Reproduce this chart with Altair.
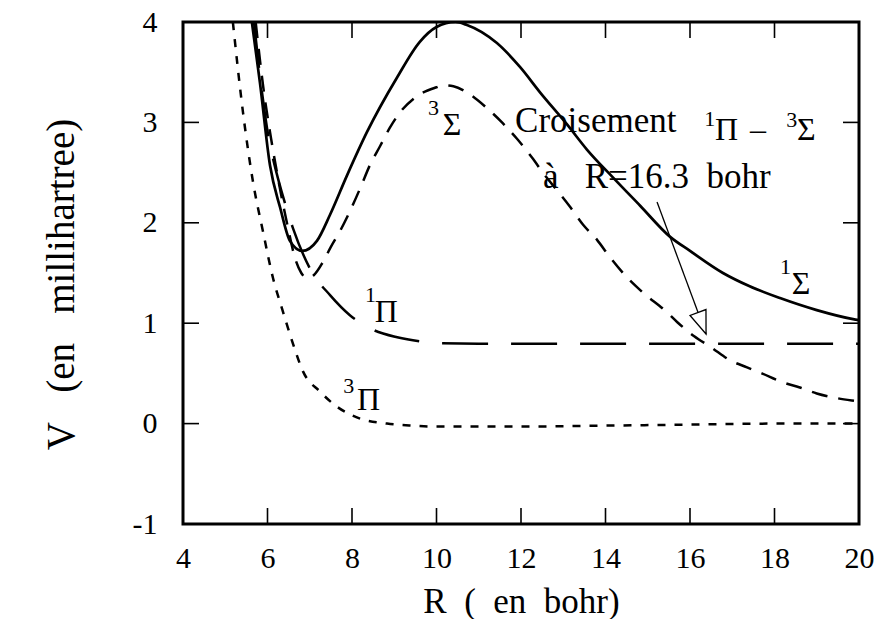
import altair as alt
import pandas as pd

FONT = "Liberation Serif, DejaVu Serif, serif"
NB = "\u00a0"

# Potential curves V(R), R in bohr, V in millihartree
R_1sigma = [5.63, 5.82, 6.06, 6.30, 6.53, 6.82, 7.17, 7.48, 7.88, 8.35, 9.07, 9.60, 10.0,
            10.45, 10.72, 11.43, 11.98, 12.45, 13.09, 13.56, 14.18, 14.82, 15.53, 16.0,
            16.78, 17.4, 18.13, 19.0, 19.86, 20.0]
V_1sigma = [4.0, 3.4, 2.57, 2.15, 1.82, 1.72, 1.82, 2.08, 2.47, 2.9, 3.45, 3.8, 3.95,
            4.0, 3.97, 3.79, 3.55, 3.30, 2.98, 2.73, 2.45, 2.17, 1.86, 1.72,
            1.50, 1.37, 1.25, 1.13, 1.04, 1.03]

R_3sigma = [5.72, 5.9, 6.1, 6.3, 6.5, 6.65, 6.8, 6.93, 7.1, 7.3, 7.5, 7.72, 7.9, 8.2,
            8.43, 8.66, 8.9, 9.1, 9.5, 10.0, 10.15, 10.4, 10.75, 11.2, 11.55, 11.9,
            12.26, 12.57, 12.88, 13.16, 13.47, 13.8, 14.1, 14.5, 14.9, 15.4, 15.7,
            16.1, 16.5, 16.95, 17.35, 17.7, 18.2, 18.6, 19.0, 19.4, 19.83, 20.0]
V_3sigma = [4.0, 3.35, 2.8, 2.33, 1.92, 1.65, 1.5, 1.45, 1.48, 1.6, 1.76, 1.92, 2.07, 2.35,
            2.58, 2.76, 2.95, 3.08, 3.25, 3.35, 3.37, 3.36, 3.29, 3.14, 3.0, 2.84,
            2.65, 2.47, 2.31, 2.16, 1.98, 1.83, 1.66, 1.46, 1.30, 1.13, 1.01,
            0.87, 0.76, 0.63, 0.56, 0.50, 0.41, 0.36, 0.30, 0.26, 0.23, 0.22]

R_1pi = [5.68, 5.87, 6.06, 6.13, 6.41, 6.6, 7.05, 7.48, 7.95, 8.47, 9.07, 9.6, 10.1,
         11.0, 14.0, 17.0, 20.0]
V_1pi = [4.0, 3.3, 2.77, 2.64, 2.2, 1.95, 1.51, 1.28, 1.08, 0.94, 0.86, 0.82, 0.80,
         0.795, 0.795, 0.795, 0.795]

R_3pi = [5.18, 5.42, 5.66, 5.9, 6.13, 6.34, 6.6, 6.84, 7.24, 7.64, 8.19, 8.83, 9.45,
         10.0, 12.0, 14.0, 16.0, 18.0, 20.0]
V_3pi = [4.0, 3.1, 2.4, 1.9, 1.45, 1.15, 0.8, 0.52, 0.32, 0.17, 0.05, 0.0, -0.02,
         -0.03, -0.03, -0.02, -0.01, 0.0, 0.0]

# Arrow pointing at the 1Pi / 3Sigma crossing
arrow_R = [15.22, 16.38]
arrow_V = [2.207, 0.892]

# Axis ticks
x_ticks = [4, 6, 8, 10, 12, 14, 16, 18, 20]
y_ticks = [-1, 0, 1, 2, 3, 4]
x_inner_ticks = [6, 8, 10, 12, 14, 16, 18]
y_inner_ticks = [0, 1, 2, 3]

# Annotation pieces (text, R, V)
plain_text = ["Croisement", "à" + NB * 3 + "R=16.3" + NB * 2 + "bohr"]
plain_R = [11.86, 12.52]
plain_V = [2.904, 2.345]

greek_text = ["Π", "–", "Σ", "Σ", "Π", "Π", "Σ"]
greek_R = [16.59, 17.42, 18.53, 10.15, 8.54, 8.12, 18.41]
greek_V = [2.824, 2.82, 2.824, 2.873, 1.012, 0.135, 1.293]

sup_text = ["1", "3", "3", "1", "3", "1"]
sup_R = [16.34, 18.28, 9.80, 8.31, 7.79, 18.13]
sup_V = [2.96, 2.953, 3.07, 1.211, 0.305, 1.49]

W, H = 676, 502

x_scale = alt.Scale(domain=[4, 20], nice=False, zero=False)
y_scale = alt.Scale(domain=[-1, 4], nice=False, zero=False)

x_axis = alt.Axis(
    values=x_ticks, ticks=False, domain=False, grid=False,
    labelFont=FONT, labelFontSize=30, labelColor="black", labelPadding=19,
    labelFlush=False, labelOverlap=False, labelExpr="'' + datum.value",
    title="R" + NB * 2 + "(" + NB * 2 + "en" + NB * 2 + "bohr)",
    titleFont=FONT, titleFontSize=35, titleFontWeight="normal", titleColor="black",
    titleY=88, titleBaseline="alphabetic",
)
y_axis = alt.Axis(
    values=y_ticks, ticks=False, domain=False, grid=False,
    labelFont=FONT, labelFontSize=30, labelColor="black", labelPadding=26,
    labelFlush=False, labelOverlap=False, labelExpr="'' + datum.value",
    title="V" + NB * 3 + "(en" + NB * 3 + "millihartree)",
    titleFont=FONT, titleFontSize=39, titleFontWeight="normal", titleColor="black",
    titleAngle=270, titleX=-110, titleY=262, titleBaseline="alphabetic", titleAlign="center",
)

X = alt.X("R:Q", scale=x_scale, axis=x_axis)
Y = alt.Y("V:Q", scale=y_scale, axis=y_axis)


def curve(R, V, dash, width=2.5):
    df = pd.DataFrame({"R": R, "V": V})
    kw = dict(color="black", strokeWidth=width, interpolate="monotone", clip=True)
    if dash:
        kw["strokeDash"] = dash
    return alt.Chart(df).mark_line(**kw).encode(x=X, y=Y, order="R:Q")


c_1sigma = curve(R_1sigma, V_1sigma, None, 2.7)
c_3sigma = curve(R_3sigma, V_3sigma, [16, 11])
c_1pi = curve(R_1pi, V_1pi, [46, 23])
c_3pi = curve(R_3pi, V_3pi, [8, 9])

arrow_df = pd.DataFrame({"R": arrow_R, "V": arrow_V})
arrow_line = alt.Chart(arrow_df).mark_line(color="black", strokeWidth=1.3).encode(x=X, y=Y)
arrow_head = alt.Chart(arrow_df.tail(1)).mark_point(
    shape="M0,0L-0.37,-1L0.37,-1Z", size=2116, angle=339.5,
    filled=True, fill="white", stroke="black", strokeWidth=1.3, opacity=1,
).encode(x=X, y=Y)


def texts(txt, R, V, size):
    df = pd.DataFrame({"t": txt, "R": R, "V": V})
    return alt.Chart(df).mark_text(
        font=FONT, fontSize=size, color="black", align="left", baseline="alphabetic"
    ).encode(x=X, y=Y, text="t:N")


t_plain = texts(plain_text, plain_R, plain_V, 35)
t_greek = texts(greek_text, greek_R, greek_V, 32)
t_sup = texts(sup_text, sup_R, sup_V, 22)

# Inward tick marks on all four sides of the frame
xt = pd.DataFrame({"R": x_inner_ticks})
yt = pd.DataFrame({"V": y_inner_ticks})
TL = 16
tick_style = dict(color="black", strokeWidth=1.6)
ticks_bottom = alt.Chart(xt).mark_rule(**tick_style).encode(x=X, y=alt.value(H), y2=alt.value(H - TL))
ticks_top = alt.Chart(xt).mark_rule(**tick_style).encode(x=X, y=alt.value(0), y2=alt.value(TL))
ticks_left = alt.Chart(yt).mark_rule(**tick_style).encode(y=Y, x=alt.value(0), x2=alt.value(TL))
ticks_right = alt.Chart(yt).mark_rule(**tick_style).encode(y=Y, x=alt.value(W), x2=alt.value(W - TL))

chart = alt.layer(
    c_3pi, c_1pi, c_3sigma, c_1sigma,
    arrow_line, arrow_head,
    t_plain, t_greek, t_sup,
    ticks_bottom, ticks_top, ticks_left, ticks_right,
).properties(
    width=W, height=H,
    autosize=alt.AutoSizeParams(type="none"),
    padding={"left": 183, "top": 22, "right": 18, "bottom": 95},
    background="white",
).configure_view(
    stroke="black", strokeWidth=3
)

chart.save("out.html", embed_options={"renderer": "svg", "actions": False})
